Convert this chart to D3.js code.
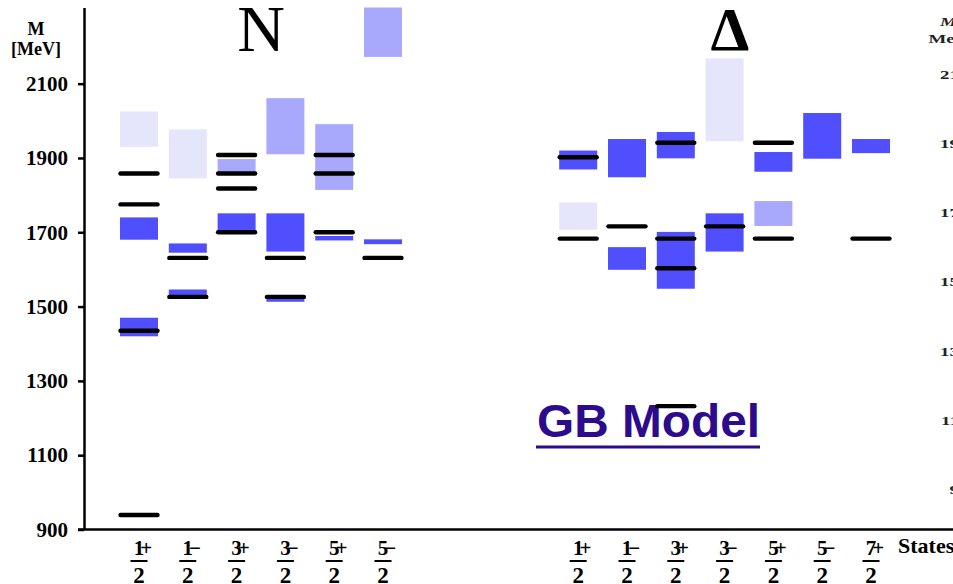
<!DOCTYPE html>
<html lang="en">
<head>
<meta charset="UTF-8">
<title>N and Delta spectrum - GB Model</title>
<script src="https://d3js.org/d3.v7.min.js"></script>
<style>
  body { margin: 0; background: #fff; }
  svg { display: block; }
  text { font-family: "Liberation Serif", "Times New Roman", serif; }
</style>
</head>
<body>
<svg id="chart" width="953" height="584"></svg>
<script>
// states (J^P) for the nucleon and delta panels
const nStates = ["1+", "1−", "3+", "3−", "5+", "5−"];
const dStates = ["1+", "1−", "3+", "3−", "5+", "5−", "7+"];

// experimental ranges [state, low, high, stars]
const nBoxes = [
  ["1+", 1930, 2025, 2], ["1+", 1680, 1740, 4], ["1+", 1420, 1470, 4],
  ["1−", 1845, 1977, 2], ["1−", 1645, 1670, 4], ["1−", 1524, 1546, 4],
  ["3+", 1855, 1897, 3], ["3+", 1700, 1751, 4],
  ["3−", 1910, 2061, 3], ["3−", 1648, 1751, 4], ["3−", 1513, 1528, 4],
  ["5+", 1814, 1991, 3], ["5+", 1678, 1690, 4],
  ["5−", 2172, 2305, 3], ["5−", 1668, 1681, 4]
];
const dBoxes = [
  ["1+", 1869, 1920, 4], ["1+", 1707, 1780, 2],
  ["1−", 1848, 1951, 4], ["1−", 1599, 1660, 4],
  ["3+", 1899, 1970, 4], ["3+", 1548, 1701, 4],
  ["3−", 1945, 2168, 2], ["3−", 1648, 1751, 4],
  ["5+", 1863, 1916, 4], ["5+", 1717, 1784, 3],
  ["5−", 1898, 2021, 4],
  ["7+", 1913, 1951, 4]
];

// model masses [state, mass]
const nLines = [
  ["1+", 939], ["1+", 1435], ["1+", 1775], ["1+", 1858],
  ["1−", 1526], ["1−", 1631],
  ["3+", 1700], ["3+", 1818], ["3+", 1858], ["3+", 1908],
  ["3−", 1526], ["3−", 1631],
  ["5+", 1700], ["5+", 1858], ["5+", 1908],
  ["5−", 1631]
];
const dLines = [
  ["1+", 1683], ["1+", 1902],
  ["1−", 1716],
  ["3+", 1232], ["3+", 1603], ["3+", 1683], ["3+", 1941],
  ["3−", 1716],
  ["5+", 1683], ["5+", 1941],
  ["7+", 1683]
];

const massTicks = [900, 1100, 1300, 1500, 1700, 1900, 2100];
const dGap = 9; // slot where delta columns start

const svg = d3.select("#chart"),
      width = +svg.attr("width");

const y = d3.scaleLinear().domain([900, 2305]).range([529.5, 7.5]);
const x = d3.scaleLinear().domain([0, 15]).range([139, 871]);

const nSlot = s => nStates.indexOf(s);
const dSlot = s => dStates.indexOf(s) + dGap;

const fill = d3.scaleOrdinal().domain([4, 3, 2]).range(["#4f4ffe", "#a8a8fc", "#e5e5fc"]);
const boxW = 38, lineHalf = 18.5;

function drawBoxes(data, slot) {
  svg.append("g").selectAll("rect").data(data).join("rect")
    .attr("x", d => x(slot(d[0])) - boxW / 2)
    .attr("y", d => y(d[2]))
    .attr("width", boxW)
    .attr("height", d => y(d[1]) - y(d[2]))
    .attr("fill", d => fill(d[3]));
}
function drawLines(data, slot) {
  svg.append("g").selectAll("line").data(data).join("line")
    .attr("x1", d => x(slot(d[0])) - lineHalf)
    .attr("x2", d => x(slot(d[0])) + lineHalf)
    .attr("y1", d => y(d[1]))
    .attr("y2", d => y(d[1]))
    .attr("stroke", "#000")
    .attr("stroke-width", 4.4)
    .attr("stroke-linecap", "round");
}

drawBoxes(nBoxes, nSlot);
drawBoxes(dBoxes, dSlot);

// GB Model label
const gb = svg.append("g");
gb.append("text")
  .attr("x", 537).attr("y", 437)
  .attr("textLength", 223).attr("lengthAdjust", "spacingAndGlyphs")
  .style("font-family", "'Liberation Sans', Arial, sans-serif")
  .style("font-weight", "bold").style("font-size", "46px")
  .attr("fill", "#2c0b8d")
  .text("GB Model");
gb.append("line")
  .attr("x1", 536).attr("x2", 760).attr("y1", 447).attr("y2", 447)
  .attr("stroke", "#2c0b8d").attr("stroke-width", 3);

drawLines(nLines, nSlot);
drawLines(dLines, dSlot);

// y axis
const yAxis = svg.append("g")
  .attr("transform", "translate(84,0)")
  .call(d3.axisLeft(y).tickValues(massTicks).tickFormat(d3.format("d"))
    .tickSize(6).tickSizeOuter(0).tickPadding(10));
yAxis.select(".domain").attr("stroke-width", 2.5);
yAxis.selectAll(".tick line").attr("stroke-width", 2.5);
yAxis.selectAll(".tick text")
  .style("font-family", "'Liberation Serif', serif")
  .style("font-size", "21px").style("font-weight", "bold").attr("fill", "#000");

// x baseline
svg.append("line")
  .attr("x1", 78).attr("x2", width).attr("y1", y(900)).attr("y2", y(900))
  .attr("stroke", "#000").attr("stroke-width", 2.5);

// axis title
svg.append("text").attr("x", 36).attr("y", 35).attr("text-anchor", "middle")
  .style("font-size", "18px").style("font-weight", "bold").text("M");
svg.append("text").attr("x", 36).attr("y", 55).attr("text-anchor", "middle")
  .style("font-size", "18px").style("font-weight", "bold").text("[MeV]");

// panel titles
svg.append("text").attr("x", 261).attr("y", 51).attr("text-anchor", "middle")
  .style("font-size", "66px").text("N");
svg.append("text").attr("x", 730).attr("y", 50).attr("text-anchor", "middle")
  .style("font-size", "62px").style("font-weight", "bold").text("Δ");

// fraction labels
function drawStateLabels(states, slot) {
  const g = svg.append("g").selectAll("g").data(states).join("g")
    .attr("transform", d => `translate(${x(slot(d))},0)`);
  g.append("text").attr("x", 2).attr("y", 555).attr("text-anchor", "middle")
    .style("font-size", "21px").style("font-weight", "bold")
    .style("letter-spacing", "-4px")
    .text(d => d);
  g.append("line").attr("x1", -8.5).attr("x2", 8.5).attr("y1", 561).attr("y2", 561)
    .attr("stroke", "#000").attr("stroke-width", 2);
  g.append("text").attr("x", 0).attr("y", 583).attr("text-anchor", "middle")
    .style("font-size", "23px").style("font-weight", "bold").text("2");
}
drawStateLabels(nStates, nSlot);
drawStateLabels(dStates, dSlot);

svg.append("text").attr("x", 898).attr("y", 553)
  .style("font-size", "22px").style("font-weight", "bold").text("States");

// neighbouring panel's mass axis, cut off at the right edge
const y2 = d3.scaleLinear().domain([900, 2100]).range([490, 75]);
const side = svg.append("g").attr("transform", "translate(940,0) scale(1.45,1)");
side.append("text").attr("x", 0).attr("y", 26)
  .style("font-size", "13px").style("font-style", "italic").style("font-weight", "bold")
  .attr("fill", "#222").text("M");
side.append("text").attr("x", -8).attr("y", 43)
  .style("font-size", "13px").style("font-weight", "bold")
  .attr("fill", "#222").text("MeV");
side.selectAll("text.tk").data(massTicks).join("text")
  .attr("class", "tk")
  .attr("x", 26).attr("y", d => y2(d) + 4).attr("text-anchor", "end")
  .style("font-size", "13px").style("font-weight", "bold").attr("fill", "#222")
  .text(d => d);
</script>
</body>
</html>
